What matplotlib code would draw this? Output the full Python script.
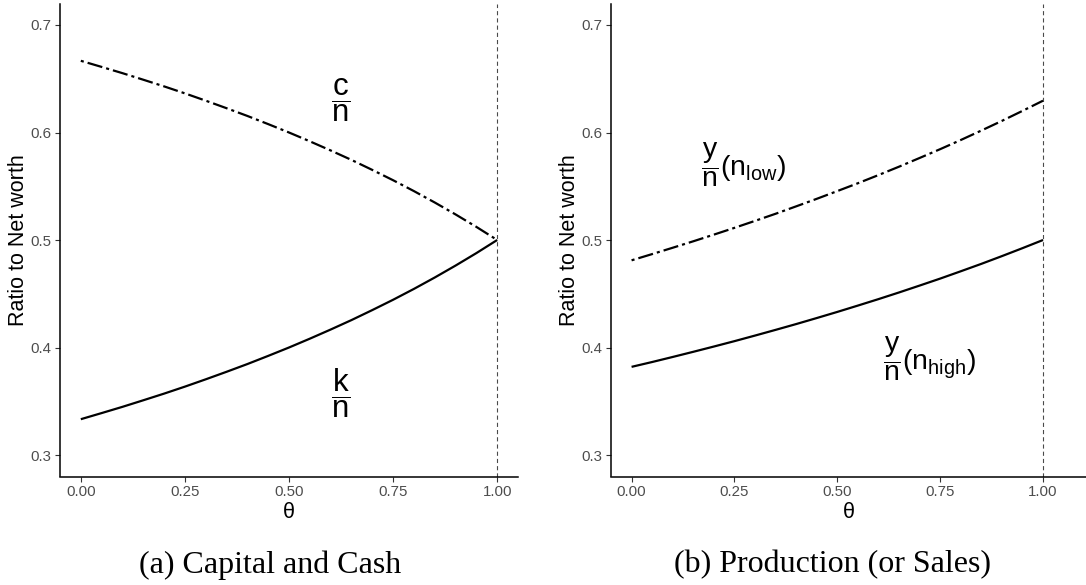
import matplotlib
matplotlib.use("Agg")
import matplotlib.pyplot as plt

# ---- data ----
theta = [0.00, 0.05, 0.10, 0.15, 0.20, 0.25, 0.30, 0.35, 0.40, 0.45, 0.50,
         0.55, 0.60, 0.65, 0.70, 0.75, 0.80, 0.85, 0.90, 0.95, 1.00]
k_over_n = [0.3333, 0.3390, 0.3448, 0.3509, 0.3571, 0.3636, 0.3704, 0.3774, 0.3846, 0.3922, 0.4000,
            0.4082, 0.4167, 0.4255, 0.4348, 0.4444, 0.4545, 0.4651, 0.4762, 0.4878, 0.5000]
c_over_n = [0.6667, 0.6610, 0.6552, 0.6491, 0.6429, 0.6364, 0.6296, 0.6226, 0.6154, 0.6078, 0.6000,
            0.5918, 0.5833, 0.5745, 0.5652, 0.5556, 0.5455, 0.5349, 0.5238, 0.5122, 0.5000]
y_n_high = [0.3820, 0.3865, 0.3912, 0.3960, 0.4009, 0.4059, 0.4111, 0.4164, 0.4218, 0.4274, 0.4331,
            0.4390, 0.4450, 0.4512, 0.4576, 0.4641, 0.4709, 0.4778, 0.4850, 0.4924, 0.5000]
y_n_low = [0.4811, 0.4869, 0.4928, 0.4988, 0.5050, 0.5113, 0.5178, 0.5244, 0.5313, 0.5383, 0.5455,
           0.5528, 0.5604, 0.5682, 0.5763, 0.5845, 0.5930, 0.6018, 0.6108, 0.6201, 0.6296]

x_ticks = [0.00, 0.25, 0.50, 0.75, 1.00]
x_ticklabels = ["0.00", "0.25", "0.50", "0.75", "1.00"]
y_ticks = [0.3, 0.4, 0.5, 0.6, 0.7]
y_ticklabels = ["0.3", "0.4", "0.5", "0.6", "0.7"]
y_label = "Ratio to Net worth"
x_label = "θ"
captions = ["(a) Capital and Cash", "(b) Production (or Sales)"]

plt.rcParams["font.family"] = ["Liberation Sans", "DejaVu Sans"]
plt.rcParams["mathtext.fontset"] = "custom"
plt.rcParams["mathtext.rm"] = "Liberation Sans"
plt.rcParams["mathtext.it"] = "Liberation Sans"
plt.rcParams["mathtext.bf"] = "Liberation Sans:bold"
plt.rcParams["lines.scale_dashes"] = False

W, H = 1086, 585
fig = plt.figure(figsize=(W / 100, H / 100), dpi=100)

def px_axes(x0, x1, ytop, ybot):
    return fig.add_axes([x0 / W, 1 - ybot / H, (x1 - x0) / W, (ybot - ytop) / H])

ax1 = px_axes(60, 518, 3.5, 476.5)
ax2 = px_axes(611, 1086, 3.5, 476.5)

dotdash = (0, (2.2, 2.9, 11.0, 2.9))
LW = 1.6

def style(ax, xmax):
    ax.set_xlim(-0.05, xmax)
    ax.set_ylim(0.28, 0.72)
    for s in ("top", "right"):
        ax.spines[s].set_visible(False)
    for s in ("left", "bottom"):
        ax.spines[s].set_linewidth(1.1)
        ax.spines[s].set_color("black")
    ax.set_xticks(x_ticks)
    ax.set_xticklabels(x_ticklabels)
    ax.set_yticks(y_ticks)
    ax.set_yticklabels(y_ticklabels)
    ax.tick_params(axis="both", length=3.5, width=0.8, color="#333333",
                   labelsize=10.8, labelcolor="#4D4D4D", pad=2.5)
    ax.set_xlabel(x_label, fontsize=15.5, labelpad=2)
    ax.set_ylabel(y_label, fontsize=15.5, labelpad=1.5)
    ax.axvline(1.0, color="#4A4A4A", lw=0.8, ls=(0, (3.0, 2.2)))

style(ax1, 1.05)
style(ax2, 1.05 + (1086 - 1063.6) / 411.6)

ax1.plot(theta, c_over_n, color="black", lw=LW, ls=dotdash, solid_capstyle="butt")
ax1.plot(theta, k_over_n, color="black", lw=LW, solid_capstyle="butt")
ax1.text(0.624, 0.630, r"$\dfrac{c}{n}$", fontsize=22.5, ha="center", va="center")
ax1.text(0.624, 0.358, r"$\dfrac{k}{n}$", fontsize=22.5, ha="center", va="center")

ax2.plot(theta, y_n_low, color="black", lw=LW, ls=dotdash, solid_capstyle="butt")
ax2.plot(theta, y_n_high, color="black", lw=LW, solid_capstyle="butt")
ax2.text(0.273, 0.570, r"$\dfrac{y}{n}(n_{low})$", fontsize=20.5, ha="center", va="center")
ax2.text(0.725, 0.390, r"$\dfrac{y}{n}(n_{high})$", fontsize=20.5, ha="center", va="center")

fig.text(270 / W, 1 - 565 / H, captions[0], fontsize=23, family="Liberation Serif",
         ha="center", va="center")
fig.text(833 / W, 1 - 565 / H, captions[1], fontsize=23, family="Liberation Serif",
         ha="center", va="center")

fig.savefig("out.png", dpi=100)
